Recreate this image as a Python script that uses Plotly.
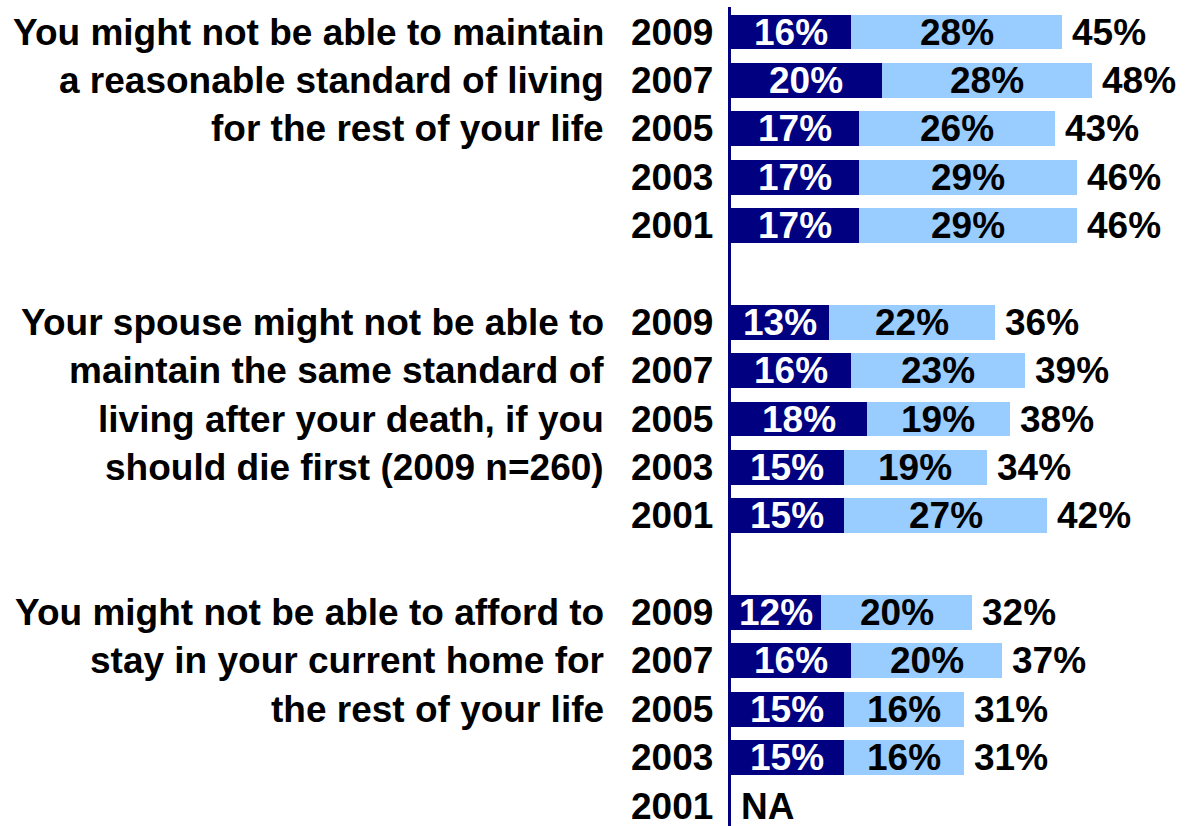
import plotly.graph_objects as go

years = ["2009", "2007", "2005", "2003", "2001"]
group_labels = [
    ["You might not be able to maintain", "a reasonable standard of living", "for the rest of your life"],
    ["Your spouse might not be able to", "maintain the same standard of", "living after your death, if you", "should die first (2009 n=260)"],
    ["You might not be able to afford to", "stay in your current home for", "the rest of your life"],
]
dark_vals = [
    [16, 20, 17, 17, 17],
    [13, 16, 18, 15, 15],
    [12, 16, 15, 15, None],
]
light_vals = [
    [28, 28, 26, 29, 29],
    [22, 23, 19, 19, 27],
    [20, 20, 16, 16, None],
]
total_vals = [
    [45, 48, 43, 46, 46],
    [36, 39, 38, 34, 42],
    [32, 37, 31, 31, None],
]

DARK = "#000080"
LIGHT = "#99CCFF"
FONT = "Arial, Liberation Sans, sans-serif"
FS = 37

rows_y, dark_x, light_x = [], [], []
annotations = []
row = 0
for g in range(3):
    start = row
    for i, yr in enumerate(years):
        y = row
        annotations.append(dict(x=0, y=y, xref="x", yref="y", text=yr, showarrow=False,
                                xanchor="right", yanchor="middle", xshift=-16,
                                font=dict(family=FONT, size=FS, color="black", weight=700)))
        d, l, t = dark_vals[g][i], light_vals[g][i], total_vals[g][i]
        if d is None:
            annotations.append(dict(x=0, y=y, xref="x", yref="y", text="NA", showarrow=False,
                                    xanchor="left", yanchor="middle", xshift=8,
                                    font=dict(family=FONT, size=FS, color="black", weight=700)))
        else:
            rows_y.append(y)
            dark_x.append(d)
            light_x.append(l)
            annotations.append(dict(x=d / 2, y=y, xref="x", yref="y", text=f"{d}%", showarrow=False,
                                    xanchor="center", yanchor="middle",
                                    font=dict(family=FONT, size=FS, color="white", weight=700)))
            annotations.append(dict(x=d + l / 2, y=y, xref="x", yref="y", text=f"{l}%", showarrow=False,
                                    xanchor="center", yanchor="middle",
                                    font=dict(family=FONT, size=FS, color="black", weight=700)))
            annotations.append(dict(x=d + l, y=y, xref="x", yref="y", text=f"{t}%", showarrow=False,
                                    xanchor="left", yanchor="middle", xshift=8,
                                    font=dict(family=FONT, size=FS, color="black", weight=700)))
        row += 1
    for j, line in enumerate(group_labels[g]):
        annotations.append(dict(x=0, y=start + j, xref="x", yref="y", text=line, showarrow=False,
                                xanchor="right", yanchor="middle", xshift=-125,
                                font=dict(family=FONT, size=FS, color="black", weight=700)))
    row += 1

fig = go.Figure()
fig.add_trace(go.Bar(y=rows_y, x=dark_x, orientation="h", marker=dict(color=DARK, line=dict(width=0)),
                     width=0.72, hoverinfo="skip"))
fig.add_trace(go.Bar(y=rows_y, x=light_x, orientation="h", marker=dict(color=LIGHT, line=dict(width=0)),
                     width=0.72, hoverinfo="skip"))

fig.update_layout(
    barmode="stack",
    width=1186, height=826,
    margin=dict(l=731, r=0, t=7, b=0),
    paper_bgcolor="white", plot_bgcolor="white",
    showlegend=False,
    annotations=annotations,
    xaxis=dict(range=[0, 455 / 7.53], showgrid=False, zeroline=False, showticklabels=False,
               showline=False, ticks=""),
    yaxis=dict(range=[16 + 20 / 48.375, -25 / 48.375], showgrid=False, zeroline=False,
               showticklabels=False, showline=True, linecolor=DARK, linewidth=3, ticks=""),
)

fig.write_html("out.html", config={"displayModeBar": False},
               post_script="document.body.style.margin='0';document.body.style.overflow='hidden';")
